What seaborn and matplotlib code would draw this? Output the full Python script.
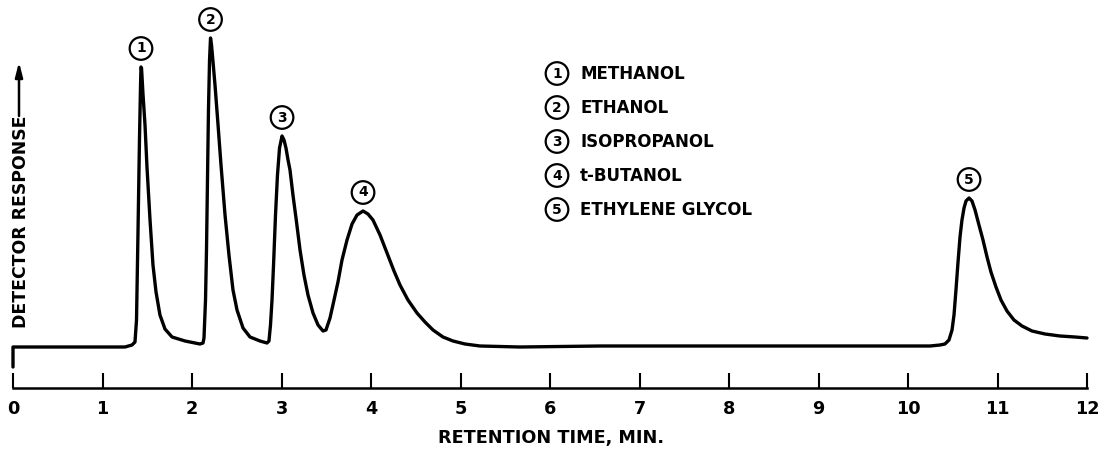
import numpy as np
import pandas as pd
import matplotlib
matplotlib.use("Agg")
import matplotlib.pyplot as plt
import seaborn as sns

# ---------------- data ----------------
time_min = [0.000, 0.000, 0.972, 1.251, 1.330, 1.363, 1.380, 1.397, 1.413, 1.425,
            1.430, 1.436, 1.453, 1.475, 1.497, 1.531, 1.564, 1.598, 1.642, 1.698,
            1.777, 1.922, 2.089, 2.123, 2.134, 2.151, 2.162, 2.173, 2.184, 2.196,
            2.207, 2.218, 2.235, 2.257, 2.291, 2.324, 2.369, 2.413, 2.458, 2.503,
            2.570, 2.648, 2.760, 2.838, 2.860, 2.877, 2.894, 2.911, 2.933, 2.955,
            2.978, 3.006, 3.028, 3.050, 3.073, 3.095, 3.128, 3.162, 3.207, 3.251,
            3.296, 3.352, 3.408, 3.464, 3.497, 3.542, 3.587, 3.631, 3.676, 3.732,
            3.788, 3.844, 3.911, 3.966, 4.022, 4.101, 4.179, 4.257, 4.324, 4.413,
            4.514, 4.603, 4.693, 4.804, 4.916, 5.050, 5.218, 5.665, 6.559, 8.793,
            10.246, 10.358, 10.413, 10.458, 10.492, 10.514, 10.536, 10.559, 10.581, 10.603,
            10.626, 10.648, 10.682, 10.715, 10.749, 10.793, 10.838, 10.883, 10.927, 10.983,
            11.039, 11.106, 11.184, 11.274, 11.385, 11.531, 11.698, 11.866, 12.000]
response = [-20, 0, 0, 0, 2, 5, 27, 117, 207, 262,
            280, 279, 252, 222, 180, 127, 82, 55, 32, 18,
            10, 6, 3, 4, 9, 47, 97, 167, 237, 287,
            309, 302, 285, 262, 222, 182, 132, 92, 57, 37,
            19, 10, 6, 4, 6, 22, 47, 82, 132, 172,
            199, 211, 207, 199, 187, 177, 152, 129, 97, 72,
            52, 34, 22, 16, 17, 29, 47, 65, 87, 107,
            123, 132, 136, 133, 127, 112, 94, 76, 62, 47,
            34, 25, 17, 10, 6, 3, 1, 0, 1, 1,
            1, 2, 3, 7, 17, 32, 57, 85, 110, 127,
            139, 146, 149, 146, 137, 122, 107, 90, 75, 60,
            47, 36, 27, 21, 16, 13, 11, 10, 9]

tick_values = [0, 1, 2, 3, 4, 5, 6, 7, 8, 9, 10, 11, 12]
tick_labels = ["0", "1", "2", "3", "4", "5", "6", "7", "8", "9", "10", "11", "12"]

peak_ids = ["1", "2", "3", "4", "5"]
peak_times = [1.43, 2.21, 3.01, 3.91, 10.68]
compounds = ["METHANOL", "ETHANOL", "ISOPROPANOL", "t-BUTANOL", "ETHYLENE GLYCOL"]

x_label = "RETENTION TIME, MIN."
y_label = "DETECTOR RESPONSE"

# ---------------- style ----------------
sns.set_style("white")
plt.rcParams["font.family"] = ["DejaVu Sans"]
plt.rcParams["font.weight"] = "bold"
plt.rcParams["text.color"] = "black"
plt.rcParams["axes.labelcolor"] = "black"
plt.rcParams["xtick.color"] = "black"

W, H = 1103, 451
X0_PX = 13.0        # pixel of t = 0
PX_PER_MIN = 89.5
BASE_PX = 347.0     # pixel row of the baseline (response 0)
AXIS_PX = 388.0     # pixel row of the time axis line

fig = plt.figure(figsize=(W / 100, H / 100), dpi=100)
ax = fig.add_axes([0, 0, 1, 1])
ax.set_facecolor("white")

df = pd.DataFrame({"time": time_min, "response": response})
sns.lineplot(data=df, x="time", y="response", sort=False, estimator=None,
             color="black", lw=2.4, ax=ax,
             solid_joinstyle="round", solid_capstyle="round")

ax.set_xlim(-X0_PX / PX_PER_MIN, (W - X0_PX) / PX_PER_MIN)
ax.set_ylim(BASE_PX - H, BASE_PX)

for s in ["left", "top", "right"]:
    ax.spines[s].set_visible(False)
ax.spines["bottom"].set_position(("data", BASE_PX - AXIS_PX))
ax.spines["bottom"].set_bounds(tick_values[0], tick_values[-1])
ax.spines["bottom"].set_linewidth(1.8)
ax.spines["bottom"].set_color("black")
ax.spines["bottom"].set_capstyle("projecting")

ax.set_xticks(tick_values)
ax.set_xticklabels(tick_labels, fontsize=12.7, fontweight="bold")
ax.tick_params(axis="x", which="major", bottom=True, top=False,
               direction="in", length=10.8, width=1.5, pad=9.0,
               color="black", labelcolor="black")
ax.set_yticks([])

ax.set_xlabel(x_label, fontsize=12.7, fontweight="bold", va="baseline",
              color="black")
ax.xaxis.set_label_coords(0.5, (H - 442.5) / H)

ax.set_ylabel(y_label, fontsize=12.4, fontweight="bold", rotation=90,
              ha="center", va="center_baseline", rotation_mode="anchor",
              color="black")
ax.yaxis.set_label_coords(19 / W, 1 - 222 / H)

# arrow above the y label
ax.annotate("", xy=(19 / W, 1 - 62 / H), xytext=(19 / W, 1 - 116 / H),
            xycoords="figure fraction", textcoords="figure fraction",
            arrowprops=dict(arrowstyle="-|>,head_length=0.86,head_width=0.22",
                            color="black", lw=1.8, shrinkA=0, shrinkB=0))

# circled peak numbers above each apex
t_arr = np.asarray(time_min)
r_arr = np.asarray(response)
circ = dict(boxstyle="circle,pad=0.31", fc="white", ec="black", lw=1.6)
for pid, pt in zip(peak_ids, peak_times):
    idx = np.where(np.abs(t_arr - pt) < 0.15)[0]
    k = idx[np.argmax(r_arr[idx])]
    ax.annotate(pid, xy=(t_arr[k], r_arr[k]), xytext=(0, 20),
                textcoords="offset pixels", ha="center", va="center_baseline",
                fontsize=10, fontweight="bold", color="black", bbox=circ)

# legend of compounds
for i, (pid, name) in enumerate(zip(peak_ids, compounds)):
    ypx = 72 + 34 * i
    fig.text(557 / W, 1 - ypx / H, pid, ha="center", va="center_baseline",
             fontsize=10, fontweight="bold", color="black", bbox=circ)
    fig.text(580 / W, 1 - ypx / H, name, ha="left", va="center_baseline",
             fontsize=12, fontweight="bold", color="black")

fig.savefig("out.png", dpi=100, facecolor="white")
